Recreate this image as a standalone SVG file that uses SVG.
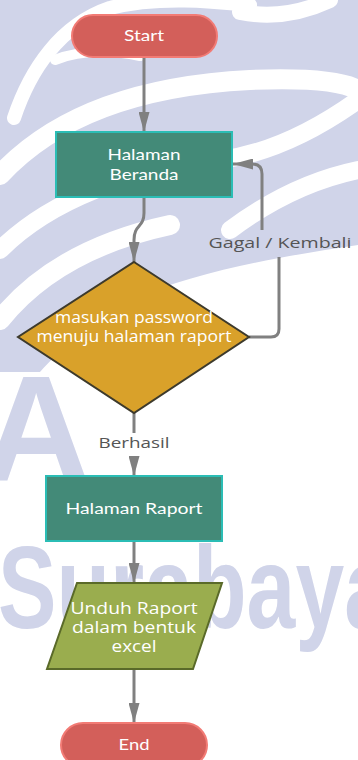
<svg xmlns="http://www.w3.org/2000/svg" width="358" height="760" viewBox="0 0 358 760">
<style>
.wm{fill:#d0d4e9}
.sw{fill:none;stroke:#ffffff;stroke-linecap:round}
.ln{fill:none;stroke:#808080;stroke-width:3}
.lbl{font-family:"Open Sans",sans-serif;font-size:15px;fill:#555555;text-anchor:middle}
.t1{font-family:Lato,sans-serif;font-size:16px;fill:#ffffff;text-anchor:middle}
.t2{font-family:"Open Sans",sans-serif;font-size:16px;fill:#ffffff;text-anchor:middle}
.term{fill:#d35f5a;stroke:#f27b75;stroke-width:2}
.proc{fill:#438a78;stroke:#2bbdb5;stroke-width:2}
</style>
<defs>
<marker id="ah" viewBox="0 0 20 11" refX="20" refY="5.5" markerWidth="20" markerHeight="11" markerUnits="userSpaceOnUse" orient="auto">
<path d="M0,0 L20,5.5 L0,11 Z" fill="#808080"/>
</marker>
</defs>
<rect width="358" height="760" fill="#ffffff"/>
<g id="watermark">
<path class="wm" d="M0,0 H358 V245 C290,255 200,270 130,300 C90,320 60,350 40,372 L0,372 Z"/>
<path class="sw" stroke-width="14" d="M14,118 C30,70 60,25 110,8 C160,-5 220,2 250,5"/>
<path class="sw" stroke-width="10" d="M55,60 C80,50 110,50 140,56"/>
<path class="sw" stroke-width="16" d="M240,12 C270,18 300,14 330,0"/>
<path class="sw" stroke-width="20" d="M0,175 C60,110 150,85 250,80 C300,78 340,80 358,90"/>
<path class="sw" stroke-width="18" d="M0,250 C50,200 130,170 220,160 C280,152 330,120 358,100"/>
<path class="sw" stroke-width="18" d="M230,230 C270,200 310,180 358,170"/>
<path class="sw" stroke-width="20" d="M0,320 C40,270 100,240 170,225"/>
<text x="-18" y="480" font-family="Liberation Sans,sans-serif" font-weight="bold" font-size="150" class="wm">A</text>
<text x="-2" y="628" font-family="Liberation Sans,sans-serif" font-weight="bold" font-size="116" textLength="395" lengthAdjust="spacingAndGlyphs" class="wm">Surabaya</text>
</g>
<g id="connectors">
<path class="ln" d="M144,57 V132" marker-end="url(#ah)"/>
<path class="ln" d="M144,197 V213 C144,228 134,224 134,240 V262" marker-end="url(#ah)"/>
<path class="ln" d="M249,337 H271 Q279,337 279,329 V257"/>
<path class="ln" d="M262,230 V174 Q262,164 252,164 H233" marker-end="url(#ah)"/>
<text class="lbl" x="280" y="248" textLength="143" lengthAdjust="spacingAndGlyphs">Gagal / Kembali</text>
<path class="ln" d="M134,413 V433"/>
<text class="lbl" x="134" y="448" textLength="71" lengthAdjust="spacingAndGlyphs">Berhasil</text>
<path class="ln" d="M134,456 V476" marker-end="url(#ah)"/>
<path class="ln" d="M134,541 V583" marker-end="url(#ah)"/>
<path class="ln" d="M134,669 V723" marker-end="url(#ah)"/>
</g>
<g id="start">
<rect class="term" x="72" y="15" width="145" height="42" rx="21"/>
<text class="t1" x="144" y="41" textLength="40" lengthAdjust="spacingAndGlyphs">Start</text>
</g>
<g id="beranda">
<rect class="proc" x="56" y="132" width="176" height="65"/>
<text class="t1" x="144" y="160" textLength="73" lengthAdjust="spacingAndGlyphs">Halaman</text>
<text class="t1" x="144" y="180" textLength="69" lengthAdjust="spacingAndGlyphs">Beranda</text>
</g>
<g id="decision">
<path d="M134,262 L249,337 L134,413 L18,337 Z" fill="#d9a12a" stroke="#3d3a2c" stroke-width="2"/>
<text class="t2" x="134" y="323" textLength="158" lengthAdjust="spacingAndGlyphs">masukan password</text>
<text class="t2" x="134" y="342" textLength="195" lengthAdjust="spacingAndGlyphs">menuju halaman raport</text>
</g>
<g id="raport">
<rect class="proc" x="46" y="476" width="176" height="65"/>
<text class="t1" x="134" y="514" textLength="137" lengthAdjust="spacingAndGlyphs">Halaman Raport</text>
</g>
<g id="unduh">
<path d="M77,583 H222 L193,669 H47 Z" fill="#9aad4e" stroke="#5a6a29" stroke-width="2"/>
<text class="t2" x="134" y="614" textLength="127" lengthAdjust="spacingAndGlyphs">Unduh Raport</text>
<text class="t2" x="134" y="633" textLength="124" lengthAdjust="spacingAndGlyphs">dalam bentuk</text>
<text class="t2" x="134" y="652" textLength="45" lengthAdjust="spacingAndGlyphs">excel</text>
</g>
<g id="end">
<rect class="term" x="61" y="723" width="146" height="44" rx="22"/>
<text class="t1" x="134" y="750" textLength="31" lengthAdjust="spacingAndGlyphs">End</text>
</g>
</svg>
